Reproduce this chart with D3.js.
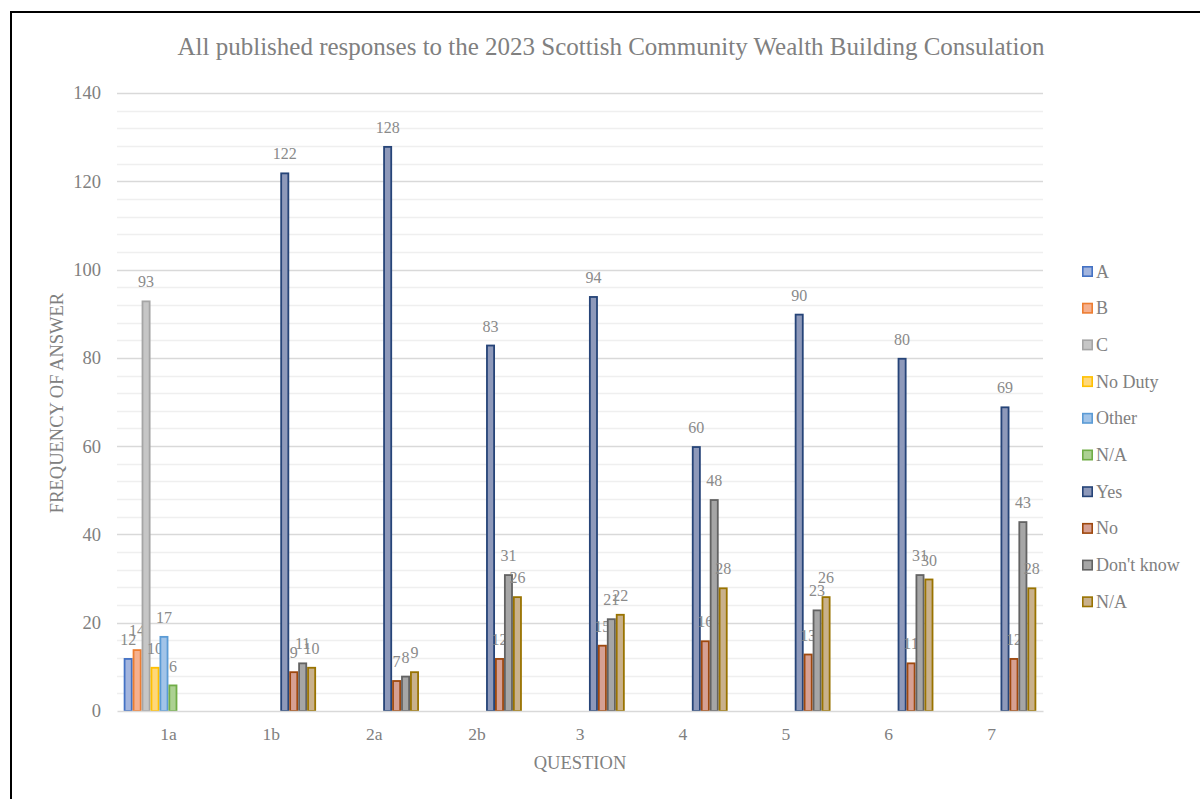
<!DOCTYPE html>
<html>
<head>
<meta charset="utf-8">
<script src="https://cdn.jsdelivr.net/npm/d3@7"></script>
<style>
  body { margin: 0; background: #fff; }
  svg { font-family: "Liberation Serif", "Times New Roman", serif; }
  .tick text { fill: #808080; }
</style>
</head>
<body>
<div id="chart"></div>
<script>
// categories (questions)
var questions = ["1a", "1b", "2a", "2b", "3", "4", "5", "6", "7"];

// series values, one per question (null = no bar)
var valA      = [12, null, null, null, null, null, null, null, null];
var valB      = [14, null, null, null, null, null, null, null, null];
var valC      = [93, null, null, null, null, null, null, null, null];
var valNoDuty = [10, null, null, null, null, null, null, null, null];
var valOther  = [17, null, null, null, null, null, null, null, null];
var valNA1    = [6, null, null, null, null, null, null, null, null];
var valYes    = [null, 122, 128, 83, 94, 60, 90, 80, 69];
var valNo     = [null, 9, 7, 12, 15, 16, 13, 11, 12];
var valDK     = [null, 11, 8, 31, 21, 48, 23, 31, 43];
var valNA2    = [null, 10, 9, 26, 22, 28, 26, 30, 28];

var seriesNames = ["A", "B", "C", "No Duty", "Other", "N/A", "Yes", "No", "Don't know", "N/A"];
var seriesValues = [valA, valB, valC, valNoDuty, valOther, valNA1, valYes, valNo, valDK, valNA2];

var yTicks = [0, 20, 40, 60, 80, 100, 120, 140];

// fill / border colours per series
var fills   = ["#a3b5de", "#f5b08e", "#c6c6c6", "#ffd87a", "#a2c4e8", "#acd192", "#8e99ba", "#d6a093", "#a6a6a6", "#c9b18c"];
var strokes = ["#4472c4", "#ed7d31", "#a5a5a5", "#ffc000", "#5b9bd5", "#70ad47", "#264478", "#9e480e", "#636363", "#997300"];

var W = 1200, H = 799;
var margin = {top: 93, left: 117, right: 157, bottom: 88};
var width = W - margin.left - margin.right,
    height = H - margin.top - margin.bottom;

var svg = d3.select("#chart").append("svg")
    .attr("width", W)
    .attr("height", H);

// outer frame
svg.append("rect")
    .attr("x", 11).attr("y", 12)
    .attr("width", W + 20).attr("height", H + 20)
    .attr("fill", "none")
    .attr("stroke", "#000")
    .attr("stroke-width", 2);

// title
svg.append("text")
    .attr("x", 611).attr("y", 55)
    .attr("text-anchor", "middle")
    .attr("font-size", 25)
    .attr("fill", "#808080")
    .text("All published responses to the 2023 Scottish Community Wealth Building Consulation");

var g = svg.append("g")
    .attr("transform", "translate(" + margin.left + "," + margin.top + ")");

var x0 = d3.scaleBand().domain(questions).range([0, width])
    .paddingInner(0.13).paddingOuter(0.065);
var x1 = d3.scaleBand().domain(d3.range(seriesNames.length)).range([0, x0.bandwidth()]);
var y = d3.scaleLinear().domain([0, 140]).range([height, 0]);

// minor gridlines
g.append("g")
    .selectAll("line")
    .data(d3.range(4, 140, 4).filter(function(v) { return v % 20 != 0; }))
    .enter().append("line")
    .attr("x1", 0).attr("x2", width)
    .attr("y1", function(d) { return Math.round(y(d)) + 0.5; })
    .attr("y2", function(d) { return Math.round(y(d)) + 0.5; })
    .attr("stroke", "#efefef")
    .attr("stroke-width", 1.5);

// major gridlines
g.append("g")
    .selectAll("line")
    .data(yTicks.slice(1))
    .enter().append("line")
    .attr("x1", 0).attr("x2", width)
    .attr("y1", function(d) { return Math.round(y(d)) + 0.5; })
    .attr("y2", function(d) { return Math.round(y(d)) + 0.5; })
    .attr("stroke", "#d9d9d9")
    .attr("stroke-width", 1.5);

// y axis
var yAxis = d3.axisLeft(y).tickValues(yTicks).tickSize(0).tickPadding(16);
g.append("g")
    .call(yAxis)
    .call(function(s) { s.select(".domain").remove(); })
    .selectAll("text")
    .attr("font-size", 18.5)
    .attr("font-family", "Liberation Serif, serif");

// bars
var groups = g.selectAll(".grp")
    .data(questions)
    .enter().append("g")
    .attr("class", "grp")
    .attr("transform", function(d) { return "translate(" + x0(d) + ",0)"; });

var cells = groups.selectAll(".bar")
    .data(function(q, qi) {
      return seriesValues.map(function(vals, si) { return {s: si, v: vals[qi]}; })
        .filter(function(d) { return d.v != null; });
    })
    .enter().append("g").attr("class", "bar");

cells.append("rect")
    .attr("x", function(d) { return x1(d.s) + 0.9; })
    .attr("y", function(d) { return y(d.v) + 0.9; })
    .attr("width", x1.bandwidth() - 1.8)
    .attr("height", function(d) { return Math.max(0, height - y(d.v) - 0.9); })
    .attr("fill", function(d) { return fills[d.s]; })
    .attr("stroke", function(d) { return strokes[d.s]; })
    .attr("stroke-width", 1.8);

cells.append("text")
    .attr("x", function(d) { return x1(d.s) + x1.bandwidth() / 2; })
    .attr("y", function(d) { return y(d.v) - 13; })
    .attr("text-anchor", "middle")
    .attr("font-size", 16)
    .attr("fill", "#8a8a8a")
    .text(function(d) { return d.v; });

// x axis
var xAxis = d3.axisBottom(x0).tickSize(0).tickPadding(17);
g.append("g")
    .attr("transform", "translate(0," + height + ")")
    .call(xAxis)
    .call(function(s) {
      s.select(".domain").attr("stroke", "#d9d9d9").attr("stroke-width", 1.5);
    })
    .selectAll("text")
    .attr("font-size", 17.5)
    .attr("font-family", "Liberation Serif, serif");

// axis titles
svg.append("text")
    .attr("x", 580).attr("y", 769)
    .attr("text-anchor", "middle")
    .attr("font-size", 18.5)
    .attr("fill", "#808080")
    .text("QUESTION");

svg.append("text")
    .attr("transform", "translate(63,403) rotate(-90)")
    .attr("text-anchor", "middle")
    .attr("font-size", 18.5)
    .attr("fill", "#808080")
    .text("FREQUENCY OF ANSWER");

// legend
var legend = svg.selectAll(".legend")
    .data(seriesNames)
    .enter().append("g")
    .attr("class", "legend")
    .attr("transform", function(d, i) { return "translate(1082," + (266 + i * 36.7) + ")"; });

legend.append("rect")
    .attr("x", 0.8).attr("y", 0.8)
    .attr("width", 9.4).attr("height", 9.4)
    .attr("fill", function(d, i) { return fills[i]; })
    .attr("stroke", function(d, i) { return strokes[i]; })
    .attr("stroke-width", 1.6);

legend.append("text")
    .attr("x", 14).attr("y", 11.5)
    .attr("font-size", 18)
    .attr("fill", "#808080")
    .text(function(d) { return d; });
</script>
</body>
</html>
